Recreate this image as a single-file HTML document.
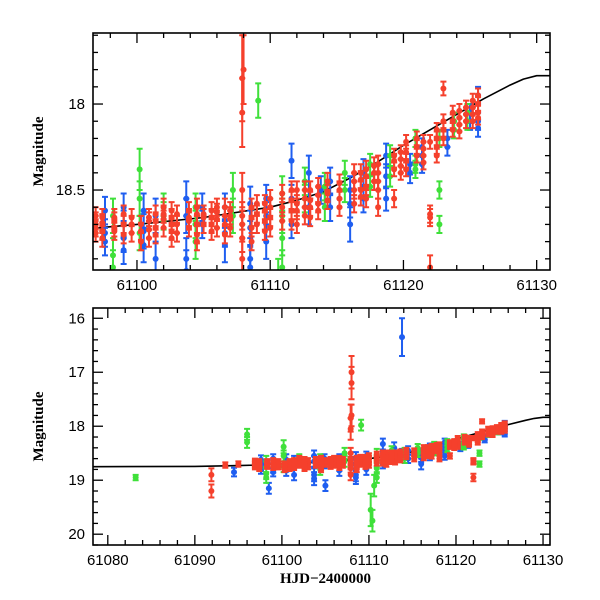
<!DOCTYPE html>
<html><head><meta charset="utf-8"><style>
html,body{margin:0;padding:0;background:#fff}
svg{display:block}
text{font-family:"Liberation Sans",sans-serif;fill:#000}
.ttl{font-family:"Liberation Serif",serif;font-weight:bold}
</style></head><body>
<svg id="c" width="600" height="600" viewBox="0 0 600 600"></svg>
<script>
// ---- data ----
const modelT=[61078,61090,61095,61097,61100,61105,61110,61112,61114,61116,61118,61120,61122,61124,61126,61128,61129,61130,61131];
const modelM=[18.75,18.745,18.73,18.72,18.70,18.66,18.60,18.56,18.51,18.43,18.34,18.24,18.15,18.06,17.97,17.89,17.855,17.835,17.835];

const redT=[61096.9,61096.9,61096.9,61096.9,61096.9,61098.3,61098.3,61098.3,61098.3,61099.6,61099.6,61099.6,61100.9,61100.9,61100.9,61100.9,61102.0,61102.0,61102.0,61102.0,61103.0,61103.0,61103.0,61103.9,61103.9,61103.9,61103.9,61105.0,61105.0,61105.0,61106.0,61106.0,61106.0,61106.0,61107.0,61107.0,61107.0,61107.0,61107.9,61107.9,61107.9,61107.9,61107.9,61107.9,61107.9,61108.0,61108.0,61108.0,61109.0,61109.0,61109.0,61110.0,61110.0,61110.0,61110.0,61110.9,61110.9,61110.9,61112.0,61112.0,61112.0,61112.0,61113.0,61113.0,61113.0,61113.0,61114.3,61114.3,61114.3,61115.2,61115.2,61115.2,61115.2,61116.3,61116.3,61116.3,61116.3,61117.2,61117.2,61117.2,61117.2,61118.1,61118.1,61118.1,61118.1,61118.1,61119.3,61119.3,61119.3,61119.3,61120.2,61120.2,61120.2,61120.2,61121.0,61121.0,61121.0,61122.0,61122.0,61122.0,61122.0,61122.5,61122.5,61122.5,61122.5,61123.0,61123.0,61123.0,61123.0,61123.7,61123.7,61123.7,61124.7,61124.7,61124.7,61125.6,61125.6,61125.6,61125.6,61091.9,61091.9,61093.5,61095.0,
61097.4,61097.4,61097.4,61097.4,61097.4,61099.0,61099.0,61099.0,61100.3,61100.3,61100.3,61101.4,61101.4,61101.4,61101.4,61102.6,61102.6,61102.6,61102.6,61102.6,61104.5,61104.5,61104.5,61104.5,61104.5,61105.6,61105.6,61105.6,61105.6,61106.6,61106.6,61106.6,61106.6,61108.6,61108.6,61108.6,61108.6,61109.6,61109.6,61109.6,61109.6,61111.6,61111.6,61111.6,61111.6,61112.6,61112.6,61112.6,61112.6,61113.6,61113.6,61113.6,61113.6,61116.8,61116.8,61116.8,61116.8,61117.8,61117.8,61117.8,61119.8,61119.8,61119.8,61119.8,61121.5,61121.5,61121.5,61121.5,61124.2,61124.2,61124.2,61124.2,61125.2,61125.2,61125.2,61125.2];
const redM=[18.65,18.70,18.75,18.68,18.72,18.68,18.72,18.66,18.74,18.70,18.75,18.66,18.68,18.73,18.78,18.66,18.60,18.64,18.67,18.72,18.64,18.70,18.75,18.62,18.68,18.72,18.66,18.64,18.70,18.66,18.63,18.67,18.72,18.60,18.62,18.67,18.72,18.65,17.85,18.05,18.50,18.65,18.70,18.78,18.90,17.00,17.20,17.80,18.58,18.64,18.70,18.55,18.60,18.66,18.72,18.52,18.60,18.68,18.50,18.58,18.62,18.70,18.50,18.56,18.60,18.66,18.45,18.52,18.56,18.46,18.50,18.55,18.60,18.40,18.45,18.50,18.58,18.38,18.42,18.48,18.55,18.35,18.40,18.45,18.50,18.60,18.30,18.33,18.38,18.55,18.22,18.28,18.33,18.38,18.20,18.25,18.30,18.22,18.64,18.66,18.95,18.15,18.20,18.25,18.30,17.91,18.10,18.15,18.20,18.05,18.10,18.15,18.02,18.06,18.10,17.95,18.00,18.05,18.08,18.9,19.2,18.72,18.7,
18.66,18.70,18.74,18.78,18.69,18.64,18.70,18.76,18.70,18.74,18.80,18.64,18.68,18.72,18.76,18.62,18.66,18.70,18.74,18.78,18.60,18.64,18.70,18.76,18.80,18.62,18.66,18.70,18.74,18.60,18.65,18.70,18.76,18.60,18.66,18.72,18.80,18.58,18.62,18.68,18.74,18.50,18.56,18.62,18.68,18.50,18.55,18.60,18.65,18.48,18.53,18.58,18.62,18.40,18.44,18.50,18.54,18.36,18.40,18.45,18.28,18.32,18.36,18.40,18.22,18.26,18.30,18.34,18.04,18.08,18.12,18.16,17.98,18.02,18.06,18.10];
const redE=[0.05,0.05,0.05,0.05,0.05,0.05,0.05,0.05,0.05,0.05,0.05,0.05,0.05,0.05,0.05,0.05,0.05,0.05,0.05,0.05,0.05,0.05,0.05,0.05,0.05,0.05,0.05,0.05,0.05,0.05,0.05,0.05,0.05,0.05,0.05,0.05,0.05,0.05,0.25,0.2,0.1,0.08,0.08,0.08,0.1,0.3,0.3,0.2,0.05,0.05,0.05,0.05,0.05,0.05,0.05,0.05,0.05,0.05,0.05,0.05,0.05,0.05,0.05,0.05,0.05,0.05,0.05,0.05,0.05,0.05,0.05,0.05,0.05,0.05,0.05,0.05,0.05,0.05,0.05,0.05,0.05,0.05,0.05,0.05,0.05,0.05,0.04,0.04,0.04,0.05,0.04,0.04,0.04,0.04,0.04,0.04,0.04,0.04,0.05,0.05,0.07,0.04,0.04,0.04,0.04,0.04,0.04,0.04,0.04,0.04,0.04,0.04,0.04,0.04,0.04,0.04,0.04,0.04,0.04,0.12,0.12,0.05,0.05,
0.05,0.05,0.05,0.05,0.05,0.05,0.05,0.05,0.05,0.05,0.05,0.05,0.05,0.05,0.05,0.05,0.05,0.05,0.05,0.05,0.05,0.05,0.05,0.05,0.05,0.05,0.05,0.05,0.05,0.05,0.05,0.05,0.05,0.05,0.05,0.05,0.05,0.05,0.05,0.05,0.05,0.05,0.05,0.05,0.05,0.05,0.05,0.05,0.05,0.05,0.05,0.05,0.05,0.05,0.05,0.05,0.05,0.05,0.05,0.05,0.04,0.04,0.04,0.04,0.04,0.04,0.04,0.04,0.04,0.04,0.04,0.04,0.04,0.04,0.04,0.04];

const blueT=[61097.6,61097.6,61097.6,61099.0,61099.0,61099.0,61099.0,61100.5,61100.5,61100.5,61101.4,61101.4,61103.7,61103.7,61103.7,61103.7,61104.9,61104.9,61106.6,61106.6,61106.6,61108.5,61108.5,61108.5,61108.5,61109.7,61109.7,61109.7,61111.6,61111.6,61111.6,61112.9,61112.9,61113.8,61113.8,61114.5,61114.5,61116.0,61116.0,61116.0,61117.0,61117.0,61118.7,61118.7,61118.7,61120.5,61120.5,61121.4,61121.4,61121.4,61123.3,61123.3,61125.0,61125.0,61125.6,61125.6,61125.6,61125.6,61098.5,61105.0,61094.5];
const blueM=[18.62,18.75,18.80,18.60,18.70,18.78,18.85,18.62,18.74,18.82,18.90,18.65,18.55,18.65,18.90,18.97,18.60,18.70,18.60,18.75,18.82,18.58,18.72,18.90,18.95,18.55,18.65,18.80,18.33,18.55,18.70,18.40,18.60,16.35,18.50,18.45,18.60,18.50,18.58,18.70,18.40,18.55,18.30,18.42,18.55,18.35,18.40,18.25,18.30,18.35,18.20,18.25,18.10,18.05,17.95,18.00,18.10,18.14,19.15,19.10,18.85];
const blueE=[0.08,0.08,0.08,0.08,0.08,0.08,0.08,0.1,0.1,0.1,0.1,0.1,0.1,0.1,0.12,0.12,0.08,0.08,0.08,0.08,0.1,0.1,0.1,0.12,0.12,0.08,0.08,0.1,0.1,0.08,0.08,0.1,0.1,0.35,0.08,0.08,0.08,0.08,0.08,0.1,0.08,0.08,0.07,0.07,0.07,0.06,0.06,0.05,0.05,0.05,0.05,0.05,0.05,0.05,0.05,0.05,0.05,0.05,0.1,0.1,0.08];

const greenT=[61083.2,61096.0,61096.0,61098.2,61098.2,61098.2,61100.2,61100.2,61100.2,61102.0,61102.0,61104.4,61104.4,61104.4,61107.2,61107.2,61109.1,61110.2,61110.4,61110.6,61110.9,61110.9,61110.9,61110.9,61112.6,61112.6,61114.1,61114.1,61115.6,61115.6,61117.5,61117.5,61119.0,61119.0,61120.9,61120.9,61120.9,61122.7,61122.7,61122.7,61123.8,61123.8,61124.8,61124.8];
const greenM=[18.95,18.15,18.30,18.65,18.88,18.95,18.38,18.55,18.75,18.60,18.65,18.60,18.70,18.80,18.50,18.65,17.98,19.55,19.75,19.1,18.52,18.65,18.78,18.95,18.45,18.55,18.48,18.60,18.40,18.50,18.35,18.48,18.30,18.42,18.20,18.35,18.38,18.20,18.50,18.70,18.10,18.15,18.05,18.10];
const greenE=[0.05,0.1,0.1,0.1,0.1,0.1,0.12,0.1,0.1,0.08,0.08,0.08,0.08,0.1,0.1,0.1,0.1,0.3,0.2,0.2,0.1,0.1,0.1,0.1,0.08,0.08,0.08,0.08,0.07,0.07,0.06,0.06,0.06,0.06,0.05,0.05,0.05,0.05,0.05,0.05,0.05,0.05,0.05,0.05];

// ---- drawing ----
const NS='http://www.w3.org/2000/svg';
const svg=document.getElementById('c');
function mk(tag,attrs,parent){const e=document.createElementNS(NS,tag);for(const k in attrs)e.setAttribute(k,attrs[k]);(parent||svg).appendChild(e);return e;}

const panels=[
 {id:'top',x0:93,x1:550,y0:33,y1:270,tmin:61096.7,tmax:61131.0,mtop:17.587,mbot:18.965,xMaj:10,xMin:2,yLabels:[18,18.5],yMin:0.1,yMaj:0.5,xLabel:false},
 {id:'bottom',x0:93,x1:550,y0:308,y1:545,tmin:61078.3,tmax:61130.8,mtop:15.81,mbot:20.2,xMaj:10,xMin:2,yLabels:[16,17,18,19,20],yMin:0.2,yMaj:1,xLabel:true}
];
const series=[
 {name:'blue',col:'#1f5ef0',T:blueT,M:blueM,E:blueE},
 {name:'green',col:'#3fe03a',T:greenT,M:greenM,E:greenE},
 {name:'red',col:'#f5402c',T:redT,M:redM,E:redE}
];

panels.forEach(p=>{
  const xs=t=>p.x0+(t-p.tmin)/(p.tmax-p.tmin)*(p.x1-p.x0);
  const ys=m=>p.y0+(m-p.mtop)/(p.mbot-p.mtop)*(p.y1-p.y0);
  const g=mk('g',{});
  
  
  const cid='clip-'+p.id;
  const cp=mk('clipPath',{id:cid},g);mk('rect',{x:p.x0,y:p.y0,width:p.x1-p.x0,height:p.y1-p.y0},cp);
  const plot=mk('g',{'clip-path':'url(#'+cid+')'},g);
  
  
  let d='';
  for(let i=0;i<modelT.length;i++){d+=(i?'L':'M')+xs(modelT[i]).toFixed(1)+' '+ys(modelM[i]).toFixed(1);}
  const mc=mk('path',{d:d,fill:'none',stroke:'#000','stroke-width':1.6,'stroke-linejoin':'round'},plot);
  
  
  series.forEach(s=>{
    const sg=mk('g',{stroke:s.col,fill:s.col},plot);
    
    
    for(let i=0;i<s.T.length;i++){
      const x=xs(s.T[i]),y=ys(s.M[i]),ya=ys(s.M[i]-s.E[i]),yb=ys(s.M[i]+s.E[i]);
      const pt=mk('g',{},sg);
      
      
      mk('path',{d:`M${x} ${ya}V${yb}M${x-3} ${ya}H${x+3}M${x-3} ${yb}H${x+3}`,'stroke-width':2,fill:'none'},pt);
      mk('circle',{cx:x,cy:y,r:3,stroke:'none'},pt);
    }
  });
  const fr=mk('rect',{x:p.x0,y:p.y0,width:p.x1-p.x0,height:p.y1-p.y0,fill:'none',stroke:'#000','stroke-width':1.6},g);
  
  
  const ax=mk('g',{stroke:'#000','stroke-width':1.3},g);
  
  
  for(let t=Math.ceil(p.tmin/p.xMin)*p.xMin;t<=p.tmax;t+=p.xMin){
    const maj=Math.abs(t/p.xMaj-Math.round(t/p.xMaj))<1e-6, L=maj?10:5, x=xs(t);
    mk('line',{x1:x,x2:x,y1:p.y1,y2:p.y1-L},ax);mk('line',{x1:x,x2:x,y1:p.y0,y2:p.y0+L},ax);
    if(maj){const tx=mk('text',{x:x,y:p.y1+20,'text-anchor':'middle','font-size':15,stroke:'none'},ax);tx.textContent=t;
      
      }
  }
  const ay=mk('g',{stroke:'#000','stroke-width':1.3},g);
  
  
  for(let m=Math.ceil(p.mtop/p.yMin-1e-6)*p.yMin;m<=p.mbot+1e-6;m+=p.yMin){
    const maj=Math.abs(m/p.yMaj-Math.round(m/p.yMaj))<1e-6, L=maj?10:5, y=ys(m);
    mk('line',{x1:p.x0,x2:p.x0+L,y1:y,y2:y},ay);mk('line',{x1:p.x1,x2:p.x1-L,y1:y,y2:y},ay);
  }
  p.yLabels.forEach(m=>{const tx=mk('text',{x:p.x0-8,y:ys(m)+5,'text-anchor':'end','font-size':15,stroke:'none'},ay);tx.textContent=String(m);
    
    });
  const yl=mk('text',{x:0,y:0,transform:`translate(43 ${(p.y0+p.y1)/2}) rotate(-90)`,'text-anchor':'middle','font-size':15,'class':'ttl'},g);
  yl.textContent='Magnitude';
  
  
  if(p.xLabel){const xl=mk('text',{x:(p.x0+p.x1)/2+4,y:583,'text-anchor':'middle','font-size':15,'class':'ttl'},g);xl.textContent='HJD\u22122400000';
    
    }
});
</script>
</body></html>
